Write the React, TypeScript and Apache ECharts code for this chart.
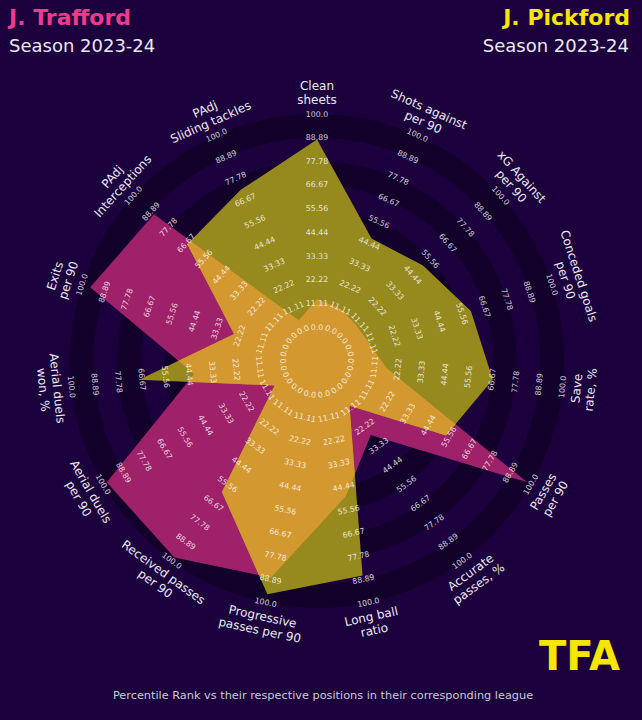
import React, { useEffect, useRef } from "react";
import * as echarts from "echarts";

// ---------- data ----------
const params = [
  "Clean\nsheets",
  "Shots against\nper 90",
  "xG Against\nper 90",
  "Conceded goals\nper 90",
  "Save\nrate, %",
  "Passes\nper 90",
  "Accurate\npasses, %",
  "Long ball\nratio",
  "Progressive\npasses per 90",
  "Received passes\nper 90",
  "Aerial duels\nper 90",
  "Aerial duels\nwon, %",
  "Exits\nper 90",
  "PAdj\nInterceptions",
  "PAdj\nSliding tackles",
];
const trafford = [13, 11, 9, 10, 17, 98, 27, 49, 88, 98, 98, 42, 96, 87, 5];
const pickford = [88, 47, 51, 60, 67, 54, 10, 87, 96, 60, 7, 68, 25, 66, 72];
const tickValues = [0, 11.11, 22.22, 33.33, 44.44, 55.56, 66.67, 77.78, 88.89, 100];
const tickLabels = ["0.0", "11.11", "22.22", "33.33", "44.44", "55.56", "66.67", "77.78", "88.89", "100.0"];
const darkBands = [
  [0, 11.11],
  [22.22, 33.33],
  [44.44, 55.56],
  [66.67, 77.78],
  [88.89, 100],
];
const player1 = "J. Trafford";
const player2 = "J. Pickford";
const season = "Season 2023-24";
const footer = "Percentile Rank vs their respective positions in their corresponding league";

// ---------- style ----------
const BG = "#1b003d";
const BAND = "#12002b";
const PINK = "#9e216a";
const OLIVE = "#968a1e";
const ORANGE = "#d49830";
const PINK_TITLE = "#f03a8f";
const YELLOW = "#f5e600";
const RMIN = -15.96;
const LABEL_R = 110;
const FONT = "DejaVu Sans";

function rotFor(i: number, n: number) {
  const th = (i * 360) / n;
  const c = th <= 90 || th >= 270 ? th : th - 180;
  return (-c * Math.PI) / 180;
}

function segInt(p1: number[], p2: number[], p3: number[], p4: number[]) {
  const d = (p1[0] - p2[0]) * (p3[1] - p4[1]) - (p1[1] - p2[1]) * (p3[0] - p4[0]);
  if (Math.abs(d) < 1e-9) return p1;
  const t = ((p1[0] - p3[0]) * (p3[1] - p4[1]) - (p1[1] - p3[1]) * (p3[0] - p4[0])) / d;
  return [p1[0] + t * (p2[0] - p1[0]), p1[1] + t * (p2[1] - p1[1])];
}

export default function App() {
  const ref = useRef<HTMLDivElement>(null);
  useEffect(() => {
    if (!ref.current) return;
    const chart = echarts.init(ref.current, null, { renderer: "svg" });
    const n = params.length;

    const polySeries = (vals: number[], color: string, z: number) => ({
      type: "custom",
      coordinateSystem: "polar",
      z,
      silent: true,
      data: vals.map((v, i) => [v, i]),
      renderItem: (p: any, api: any) => {
        if (p.dataIndex !== 0) return { type: "group", children: [] };
        const pts = vals.map((v, i) => api.coord([v, i]));
        return { type: "polygon", shape: { points: pts }, style: { fill: color } };
      },
    });

    const option: any = {
      animation: false,
      backgroundColor: BG,
      polar: { center: [317, 361], radius: 247 },
      angleAxis: {
        type: "value", min: 0, max: n, startAngle: 90, clockwise: true, show: false,
        axisLine: { show: false }, splitLine: { show: false }, axisLabel: { show: false }, axisTick: { show: false },
      },
      radiusAxis: {
        type: "value", min: RMIN, max: 100, show: false,
        axisLine: { show: false }, splitLine: { show: false }, axisLabel: { show: false }, axisTick: { show: false },
      },
      graphic: [
        { type: "text", left: 9, top: 6, style: { text: player1, fill: PINK_TITLE, font: `bold 22px '${FONT}'` } },
        { type: "text", left: 9, top: 36, style: { text: season, fill: "#ece8f2", font: `18px '${FONT}'` } },
        { type: "text", right: 12, top: 6, style: { text: player2, fill: YELLOW, font: `bold 22px '${FONT}'` } },
        { type: "text", right: 13, top: 36, style: { text: season, fill: "#ece8f2", font: `18px '${FONT}'` } },
        { type: "text", left: 539, top: 636, style: { text: "TFA", fill: YELLOW, font: `bold 40px '${FONT}'` } },
        {
          type: "text", x: 323, y: 695,
          style: { text: footer, fill: "#cdc9d8", font: `11.3px '${FONT}'`, align: "center", verticalAlign: "middle" },
        },
      ],
      series: [
        {
          type: "custom",
          coordinateSystem: "polar",
          z: 1,
          silent: true,
          data: darkBands,
          renderItem: (p: any, api: any) => {
            const cs = p.coordSys;
            const a = api.coord([api.value(0), 0]);
            const b = api.coord([api.value(1), 0]);
            const r0 = Math.hypot(a[0] - cs.cx, a[1] - cs.cy);
            const r = Math.hypot(b[0] - cs.cx, b[1] - cs.cy);
            return { type: "ring", shape: { cx: cs.cx, cy: cs.cy, r, r0 }, style: { fill: BAND } };
          },
        },
        polySeries(trafford, PINK, 2),
        polySeries(pickford, OLIVE, 3),
        {
          type: "custom",
          coordinateSystem: "polar",
          z: 4,
          silent: true,
          data: [[0, 0]],
          renderItem: (p: any, api: any) => {
            const A = trafford.map((v, i) => api.coord([v, i]));
            const B = pickford.map((v, i) => api.coord([v, i]));
            const pts: number[][] = [];
            for (let i = 0; i < n; i++) {
              const j = (i + 1) % n;
              pts.push(trafford[i] <= pickford[i] ? A[i] : B[i]);
              const d0 = trafford[i] - pickford[i];
              const d1 = trafford[j] - pickford[j];
              if (d0 * d1 < 0) pts.push(segInt(A[i], A[j], B[i], B[j]));
            }
            return { type: "polygon", shape: { points: pts }, style: { fill: ORANGE } };
          },
        },
        {
          type: "custom",
          coordinateSystem: "polar",
          z: 5,
          silent: true,
          data: params.flatMap((_, i) => tickValues.map((v, j) => [v, i, j])),
          renderItem: (p: any, api: any) => {
            const v = api.value(0);
            const i = api.value(1);
            const j = api.value(2);
            const pt = api.coord([v, i]);
            return {
              type: "text",
              x: pt[0],
              y: pt[1],
              rotation: rotFor(i, n),
              style: {
                text: tickLabels[j],
                fill: "rgba(255,255,255,0.8)",
                font: `7.8px '${FONT}'`,
                align: "center",
                verticalAlign: "middle",
              },
            };
          },
        },
        {
          type: "custom",
          coordinateSystem: "polar",
          z: 6,
          silent: true,
          data: params.map((_, i) => [LABEL_R, i]),
          renderItem: (p: any, api: any) => {
            const i = api.value(1);
            const pt = api.coord([api.value(0), i]);
            return {
              type: "text",
              x: pt[0],
              y: pt[1],
              rotation: rotFor(i, n),
              style: {
                text: params[i],
                fill: "#ece8f2",
                font: `12px '${FONT}'`,
                lineHeight: 14,
                align: "center",
                verticalAlign: "middle",
              },
            };
          },
        },
      ],
    };
    chart.setOption(option);
    return () => chart.dispose();
  }, []);
  return <div ref={ref} style={{ position: "fixed", left: 0, top: 0, width: 642, height: 720 }} />;
}
